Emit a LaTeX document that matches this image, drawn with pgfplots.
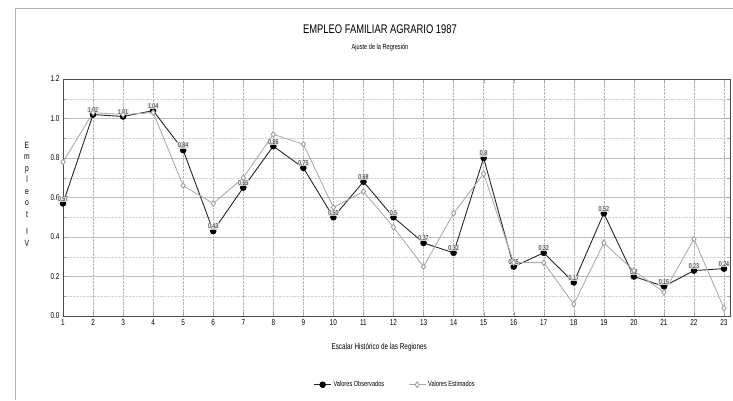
\documentclass[border=0pt]{standalone}
\usepackage{pgfplots}
\pgfplotsset{compat=1.18}
\usepackage{fontspec}
\setmainfont{Liberation Sans}[FakeStretch=0.75]
\begin{document}
\begin{tikzpicture}[x=1pt,y=1pt]
\useasboundingbox (0,0) rectangle (733,400);
\draw[gray!60, line width=0.8pt] (15,0) -- (15,392) -- (733,392);
\node[font=\fontsize{12.5}{13}\selectfont] at (380,371) {EMPLEO FAMILIAR AGRARIO 1987};
\node[font=\fontsize{7.5}{8}\selectfont] at (380,352) {Ajuste de la Regresión};
\node[font=\fontsize{9}{11.5}\selectfont, align=center] at (27,206) {E\\m\\p\\l\\e\\o\\t\\[6pt]I\\V};
\begin{axis}[
  at={(63pt,84pt)}, anchor=south west,
  scale only axis, width=667pt, height=237pt,
  xmin=1, xmax=23.2, ymin=0, ymax=1.2,
  xtick={1,...,23}, ytick={0,0.2,...,1.2},
  minor y tick num=1,
  /pgf/number format/assume math mode=true,
  yticklabel style={/pgf/number format/fixed, /pgf/number format/fixed zerofill, /pgf/number format/precision=1},
  tick label style={font=\fontsize{8.5}{9}\selectfont},
  xmajorgrids, ymajorgrids, yminorgrids,
  major x grid style={gray!60, densely dotted},
  major y grid style={gray!50},
  minor y grid style={gray!35, densely dotted},
  axis line style={gray!60!black},
  tick style={gray!70},
  xlabel={Escalar Histórico de las Regiones},
  xlabel style={font=\fontsize{8.5}{9}\selectfont, at={(0.474,-0.13)}, anchor=center},
  legend style={at={(0.498,-0.29)}, anchor=center, draw=none, legend columns=2,
    font=\fontsize{7.5}{8}\selectfont, /tikz/every even column/.append style={column sep=22pt}},
  legend cell align=left,
  clip=false,
]
\addplot[gray!30!black, line width=0.9pt, mark=*, mark size=2.8pt, mark options={fill=black, draw=black},
  point meta=explicit symbolic, nodes near coords,
  every node near coord/.style={font=\fontsize{7}{8}\selectfont, fill=gray!18, fill opacity=0.85, text opacity=1, inner sep=0.6pt, anchor=south, yshift=1pt}]
coordinates {
(1,0.57)[0.57] (2,1.02)[1.02] (3,1.01)[1.01] (4,1.04)[1.04] (5,0.84)[0.84]
(6,0.43)[0.43] (7,0.65)[0.65] (8,0.86)[0.86] (9,0.75)[0.75] (10,0.50)[0.50]
(11,0.68)[0.68] (12,0.50)[0.5] (13,0.37)[0.37] (14,0.32)[0.32] (15,0.80)[0.8]
(16,0.25)[0.25] (17,0.32)[0.32] (18,0.17)[0.17] (19,0.52)[0.52] (20,0.20)[0.2]
(21,0.15)[0.15] (22,0.23)[0.23] (23,0.24)[0.24]
};
\addlegendentry{Valores Observados}
\addplot[gray!65, line width=0.9pt, mark=diamond*, mark size=2.8pt, mark options={fill=white, draw=gray!75}]
coordinates {
(1,0.78) (2,1.03) (3,1.02) (4,1.03) (5,0.66) (6,0.57) (7,0.70) (8,0.92)
(9,0.87) (10,0.55) (11,0.63) (12,0.45) (13,0.25) (14,0.52) (15,0.72) (16,0.27)
(17,0.27) (18,0.06) (19,0.37) (20,0.23) (21,0.12) (22,0.39) (23,0.04)
};
\addlegendentry{Valores Estimados}
\end{axis}
\end{tikzpicture}
\end{document}
